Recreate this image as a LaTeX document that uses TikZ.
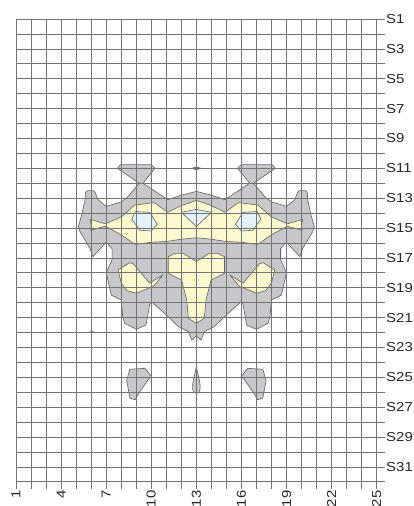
\documentclass[tikz,border=0pt]{standalone}
\usepackage{fontspec}
\setmainfont{Liberation Sans}[FakeStretch=1.15]
\usepackage{tikz}
\definecolor{zonegray}{RGB}{199,200,204}
\definecolor{zoneyellow}{RGB}{255,250,206}
\definecolor{zoneblue}{RGB}{228,241,251}
\definecolor{edgegray}{RGB}{95,95,95}
\definecolor{gridgray}{RGB}{115,115,115}

\begin{document}
\begin{tikzpicture}[x=15.03bp,y=-14.93bp,
  zone/.style={draw=edgegray, line width=0.6bp, line join=round},
  grayzone/.style={zone, fill=zonegray},
  yellowzone/.style={zone, fill=zoneyellow},
  bluezone/.style={zone, fill=zoneblue},
  gridline/.style={draw=gridgray, line width=0.7bp},
  lab/.style={font=\fontsize{13bp}{15bp}\selectfont, inner sep=0pt, text=black!85}]
\useasboundingbox (-0.0645,-0.2726) rectangle (27.48,33.62);
\fill[white] (-0.0645,-0.2726) rectangle (27.48,33.62);
\draw[grayzone] (13,12.55) -- (12.0,12.8) -- (11.1,13.1) -- (10.35,12.6) -- (9.45,12.0)
  -- (10.25,11.0) -- (10.0,10.75) -- (7.95,10.75) -- (7.75,11.0) -- (9.2,12.0)
  -- (8.45,12.9) -- (8.0,13.25) -- (7.0,13.55) -- (6.45,13.1) -- (6.26,12.6)
  -- (6.15,12.5) -- (5.75,12.5) -- (5.62,12.62) -- (5.59,13.12) -- (5.37,14.13)
  -- (5.15,14.9) -- (5.26,15.25) -- (5.59,15.8) -- (5.92,16.36) -- (6.12,16.92)
  -- (7.0,15.95) -- (7.4,16.4) -- (7.4,17.1) -- (7.0,18.0) -- (7.35,19.5)
  -- (8.0,19.82) -- (8.1,20.93) -- (8.23,21.38) -- (9.0,21.78) -- (9.65,21.5)
  -- (9.89,20.15) -- (10.0,19.92) -- (11.0,20.82) -- (11.8,21.6) -- (12.47,21.94)
  -- (12.69,22.5) -- (13,22.23) -- (13.31,22.5) -- (13.53,21.94) -- (14.2,21.6)
  -- (15.0,20.82) -- (16.0,19.92) -- (16.11,20.15) -- (16.35,21.5) -- (17.0,21.78)
  -- (17.77,21.38) -- (17.9,20.93) -- (18.0,19.82) -- (18.65,19.5) -- (19.0,18.0)
  -- (18.6,17.1) -- (18.6,16.4) -- (19.0,15.95) -- (19.88,16.92) -- (20.08,16.36)
  -- (20.41,15.8) -- (20.74,15.25) -- (20.85,14.9) -- (20.63,14.13) -- (20.41,13.12)
  -- (20.38,12.62) -- (20.25,12.5) -- (19.85,12.5) -- (19.74,12.6) -- (19.55,13.1)
  -- (19.0,13.55) -- (18.0,13.25) -- (17.55,12.9) -- (16.8,12.0) -- (18.25,11.0)
  -- (18.05,10.75) -- (16.0,10.75) -- (15.75,11.0) -- (16.55,12.0) -- (15.65,12.6)
  -- (14.9,13.1) -- (14.0,12.8) -- cycle;
\draw[yellowzone] (13,13.15) -- (12.0,13.5) -- (11.1,13.95) -- (10.2,13.3) -- (8.9,13.46)
  -- (8.03,14.24) -- (6.95,14.72) -- (5.92,14.42) -- (6.02,14.85) -- (5.95,15.15)
  -- (6.95,14.88) -- (8.03,15.47) -- (8.92,16.1) -- (10.03,15.95) -- (11.02,15.9)
  -- (12.0,15.75) -- (13,15.65) -- (14.0,15.75) -- (14.98,15.9) -- (15.97,15.95)
  -- (17.08,16.1) -- (17.97,15.47) -- (19.05,14.88) -- (20.05,15.15) -- (19.98,14.85)
  -- (20.08,14.42) -- (19.05,14.72) -- (17.97,14.24) -- (17.1,13.46) -- (15.8,13.3)
  -- (14.9,13.95) -- (14.0,13.5) -- cycle;
\draw[bluezone] (8.7,14.4) -- (8.95,13.9) -- (9.9,13.95) -- (10.4,14.75) -- (10.0,15.2) -- (9.25,15.15) -- cycle;
\draw[bluezone] (12.0,13.95) -- (13.0,13.75) -- (14.0,13.95) -- (13.0,14.9) -- cycle;
\draw[bluezone] (17.3,14.4) -- (17.05,13.9) -- (16.1,13.95) -- (15.6,14.75) -- (16.0,15.2) -- (16.75,15.15) -- cycle;
\draw[yellowzone] (13.0,17.25) -- (12.13,16.7) -- (11.58,16.7) -- (11.13,16.92) -- (11.13,18.03)
  -- (12.02,18.48) -- (12.36,19.82) -- (12.47,21.05) -- (13.0,21.38) -- (13.53,21.05)
  -- (13.64,19.82) -- (13.98,18.48) -- (14.87,18.03) -- (14.87,16.92) -- (14.42,16.7)
  -- (13.87,16.7) -- cycle;
\draw[yellowzone] (7.79,17.81) -- (8.56,17.32) -- (8.8,17.4) -- (9.34,18.03) -- (9.89,18.7)
  -- (10.78,18.14) -- (10.12,18.93) -- (9.78,19.04) -- (9.01,19.37) -- (8.4,19.2) -- (8.01,18.7) -- cycle;
\draw[yellowzone] (18.21,17.81) -- (17.44,17.32) -- (17.2,17.4) -- (16.66,18.03) -- (16.11,18.7)
  -- (15.22,18.14) -- (15.88,18.93) -- (16.22,19.04) -- (16.99,19.37) -- (17.6,19.2) -- (17.99,18.7) -- cycle;
\draw[grayzone] (8.58,24.46) -- (9.58,24.4) -- (10.03,24.96) -- (9.8,25.15) -- (9.25,25.96)
  -- (8.92,26.5) -- (8.58,26.4) -- (8.36,25.2) -- cycle;
\draw[grayzone] (17.42,24.46) -- (16.42,24.4) -- (15.97,24.96) -- (16.2,25.15) -- (16.75,25.96)
  -- (17.08,26.5) -- (17.42,26.4) -- (17.64,25.2) -- cycle;
\draw[grayzone] (13,24.3) -- (13.22,25.3) to[out=-80,in=0] (13,26.07) to[out=180,in=-100] (12.78,25.3) -- cycle;
\draw[zone, fill=edgegray!70] (12.7,11) -- (13,10.9) -- (13.3,11) -- (13,11.1) -- cycle;
\fill[edgegray] (5.85,21.9) -- (6.05,21.86) -- (6.2,21.98) -- (6.05,21.93) -- cycle;
\fill[edgegray] (20.15,21.9) -- (19.95,21.86) -- (19.8,21.98) -- (19.95,21.93) -- cycle;
\foreach \c in {1,...,25}
  \draw[gridline] (\c,1) -- (\c,32.47);
\foreach \r in {1,...,32}
  \draw[gridline] (1,\r) -- (25.55,\r);
\foreach \r in {1,3,...,31}
  \node[lab, anchor=west] (s\r) at (25.62,\r) {S\r};
\foreach \c in {1,4,...,25}
  \node[lab, rotate=90, anchor=east] (n\c) at (\c,32.58) {\c};
\end{tikzpicture}
\end{document}
